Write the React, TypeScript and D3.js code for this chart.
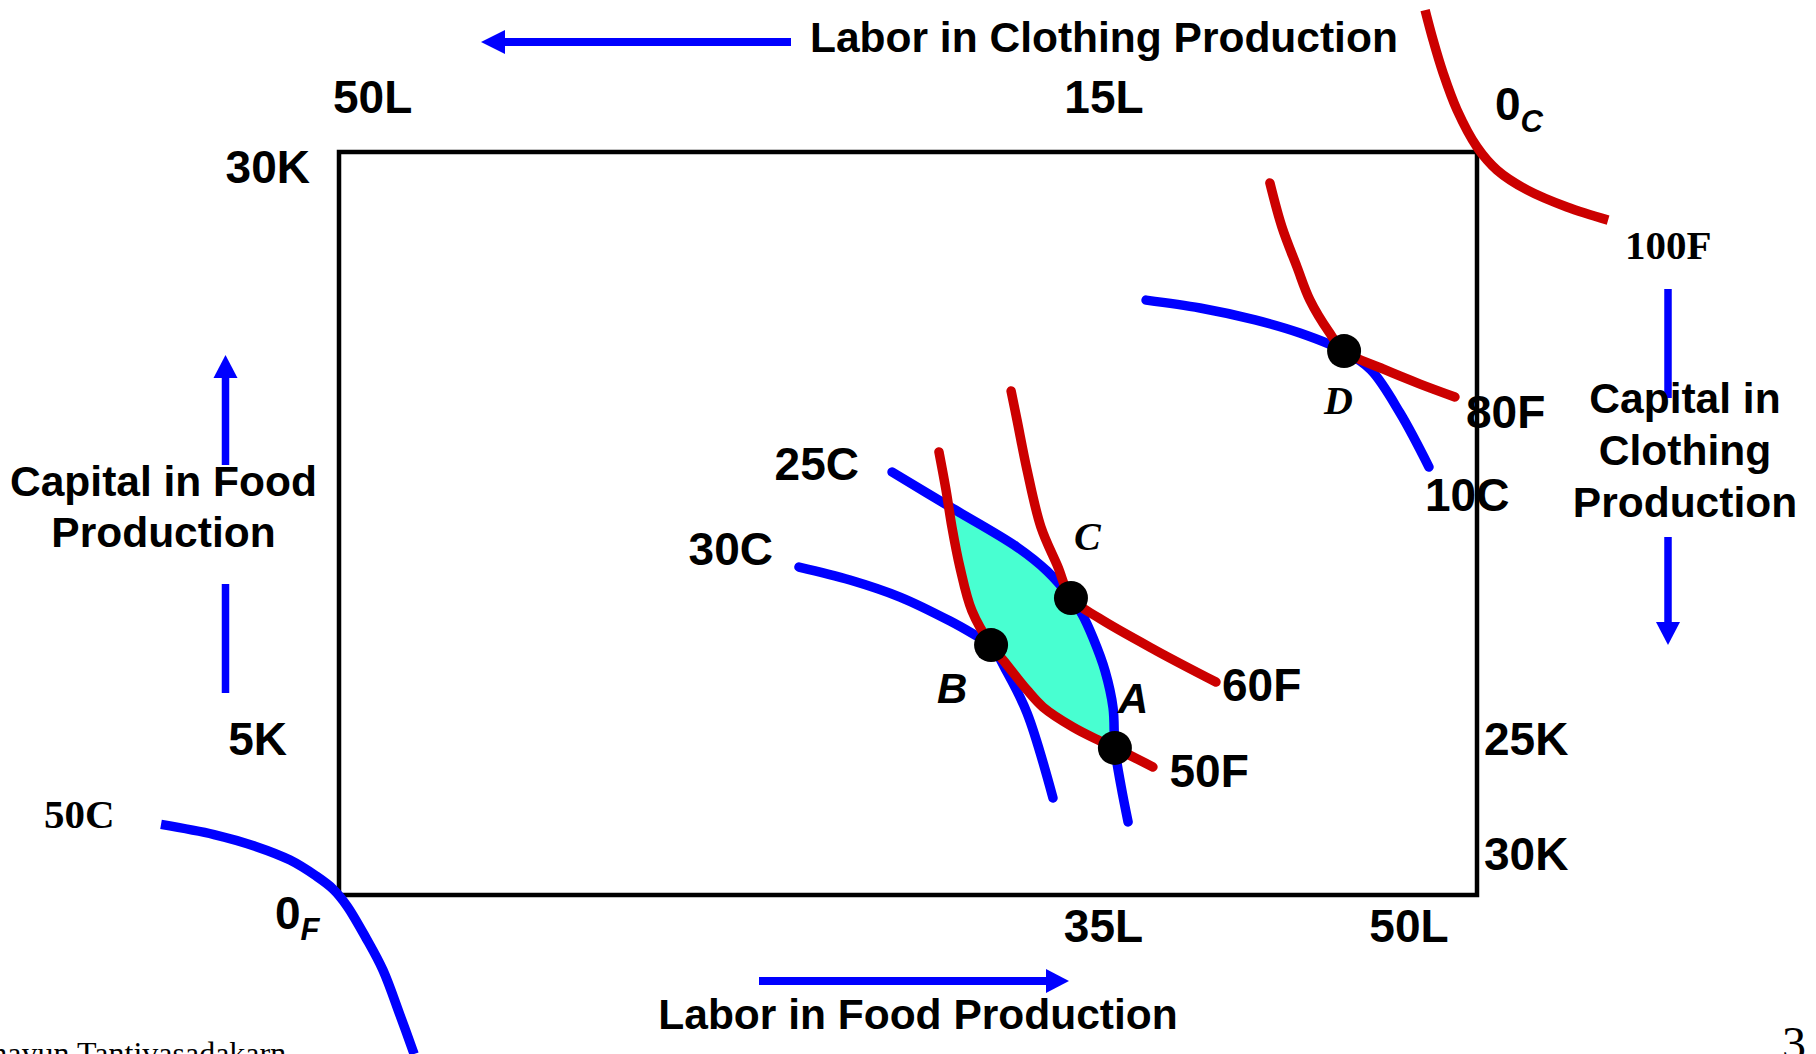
import React from "react";
import * as d3 from "d3";

const W = 1816;
const H = 1054;

// Edgeworth box totals
const laborTotal = 50;
const capitalTotal = 30;

// Isoquants, in food-origin coordinates [labor, capital]
const food50F: [number, number][] = [
  [26.36, 17.89], [26.67, 16.35], [26.93, 14.86], [27.28, 13.24], [27.81, 11.47],
  [28.65, 10.09], [29.35, 9.29], [30.23, 8.28], [30.93, 7.59], [32.25, 6.78],
  [33.44, 6.22], [34.09, 5.94], [35.76, 5.17],
];
const food60F: [number, number][] = [
  [29.53, 20.35], [29.79, 19.18], [30.23, 17.16], [30.84, 14.86], [31.59, 13.24],
  [32.16, 11.99], [33.39, 11.18], [35.94, 9.85], [38.53, 8.6],
];
const food80F: [number, number][] = [
  [40.9, 28.75], [41.43, 26.97], [42.09, 25.36], [42.66, 24.02], [43.5, 22.73],
  [44.16, 21.96], [45.87, 21.24], [47.5, 20.63], [49.03, 20.11],
];
const food100F: [number, number][] = [
  [47.72, 35.73], [48.07, 34.52], [48.51, 33.19], [49.12, 31.7], [50.0, 30.2],
  [50.88, 29.27], [52.2, 28.47], [53.95, 27.78], [55.76, 27.25],
];
const cloth25C: [number, number][] = [
  [24.3, 17.08], [26.85, 15.67], [29.79, 14.05], [31.11, 13.08], [32.16, 11.99],
  [32.64, 11.35], [33.13, 10.38], [33.66, 9.04], [34.01, 7.55], [34.09, 5.94],
  [34.36, 4.4], [34.67, 2.95],
];
const cloth30C: [number, number][] = [
  [20.21, 13.24], [22.45, 12.72], [24.65, 12.03], [26.85, 11.06], [27.86, 10.54],
  [28.65, 10.09], [29.35, 9.0], [30.23, 7.35], [31.37, 3.92],
];
const cloth10C: [number, number][] = [
  [35.46, 24.02], [37.83, 23.7], [40.25, 23.22], [42.22, 22.69], [44.16, 21.96],
  [45.34, 21.2], [46.62, 19.46], [47.89, 17.28],
];
const cloth50C: [number, number][] = [
  [-7.82, 2.85], [-5.49, 2.44], [-3.69, 1.97], [-2.15, 1.41], [-1.01, 0.77],
  [-0.26, 0.24], [0.35, -0.44], [1.19, -1.74], [1.93, -3.03], [2.68, -4.85], [3.3, -6.42],
];
const lensCorner: [number, number] = [26.87, 15.65];

const allocPoints = [
  { name: "A", L: 34.09, K: 5.94 },
  { name: "B", L: 28.65, K: 10.09 },
  { name: "C", L: 32.16, K: 11.99 },
  { name: "D", L: 44.16, K: 21.96 },
];

const RED = "#CC0000";
const BLUE = "#0000FF";
const SANS = "'Liberation Sans', Arial, Helvetica, sans-serif";
const SERIF = "'Liberation Serif', 'Times New Roman', serif";

export default function App() {
  const x = d3.scaleLinear().domain([0, laborTotal]).range([339, 1477]);
  const y = d3.scaleLinear().domain([0, capitalTotal]).range([895, 152]);
  const line = d3
    .line<[number, number]>()
    .x((d) => x(d[0]))
    .y((d) => y(d[1]))
    .curve(d3.curveCatmullRom.alpha(0.5));

  const lensUpper = [lensCorner, ...cloth25C.slice(2, 10)];
  const lensLower = [...food50F.slice(2, 12).reverse(), lensCorner];
  const lensPath =
    (line(lensUpper) || "") + (line(lensLower) || "").replace(/^M/, "L") + "Z";

  const numStyle = { fontFamily: SANS, fontWeight: 700, fontSize: 46 } as const;
  const titleStyle = { fontFamily: SANS, fontWeight: 700, fontSize: 42.5 } as const;
  const serifBold = { fontFamily: SERIF, fontWeight: 700, fontSize: 41 } as const;

  const curve = (data: [number, number][], color: string, cap: "round" | "butt" = "round") => (
    <path d={line(data) || ""} fill="none" stroke={color} strokeWidth={9.5} strokeLinecap={cap} strokeLinejoin="round" />
  );

  return (
    <svg
      width={W}
      height={H}
      viewBox={`0 0 ${W} ${H}`}
      style={{ position: "absolute", left: 0, top: 0, background: "#fff" }}
    >
      <rect x={0} y={0} width={W} height={H} fill="#fff" />

      {/* Box */}
      <rect
        x={x(0)}
        y={y(capitalTotal)}
        width={x(laborTotal) - x(0)}
        height={y(0) - y(capitalTotal)}
        fill="none"
        stroke="#000"
        strokeWidth={4.5}
      />

      {/* Lens of mutual gains */}
      <path d={lensPath} fill="#48FFD1" stroke="#000" strokeWidth={1.5} />

      {/* Isoquants */}
      {curve(cloth30C, BLUE)}
      {curve(cloth25C, BLUE)}
      {curve(cloth10C, BLUE)}
      {curve(cloth50C, BLUE, "butt")}
      {curve(food50F, RED)}
      {curve(food60F, RED)}
      {curve(food80F, RED)}
      {curve(food100F, RED, "butt")}

      {/* Allocation points */}
      {allocPoints.map((p) => (
        <circle key={p.name} cx={x(p.L)} cy={y(p.K)} r={17} fill="#000" />
      ))}

      {/* Arrows */}
      <line x1={505} y1={42} x2={791} y2={42} stroke={BLUE} strokeWidth={8} />
      <polygon points="481,42 505,30 505,54" fill={BLUE} />
      <line x1={759} y1={981} x2={1047} y2={981} stroke={BLUE} strokeWidth={8} />
      <polygon points="1069,981 1046,969 1046,993" fill={BLUE} />
      <line x1={225.5} y1={377} x2={225.5} y2={465} stroke={BLUE} strokeWidth={7.5} />
      <polygon points="225.5,355 213.5,378 237.5,378" fill={BLUE} />
      <line x1={225.5} y1={584} x2={225.5} y2={693} stroke={BLUE} strokeWidth={7.5} />
      <line x1={1668} y1={289} x2={1668} y2={398} stroke={BLUE} strokeWidth={7.5} />
      <line x1={1668} y1={537} x2={1668} y2={623} stroke={BLUE} strokeWidth={7.5} />
      <polygon points="1668,645 1656,622 1680,622" fill={BLUE} />

      {/* Titles */}
      <text x={810} y={52} style={titleStyle}>Labor in Clothing Production</text>
      <text x={918} y={1029} textAnchor="middle" style={titleStyle}>Labor in Food Production</text>
      <text x={163.5} y={496} textAnchor="middle" style={titleStyle}>Capital in Food</text>
      <text x={163.5} y={547} textAnchor="middle" style={titleStyle}>Production</text>
      <text x={1685} y={413} textAnchor="middle" style={titleStyle}>Capital in</text>
      <text x={1685} y={465} textAnchor="middle" style={titleStyle}>Clothing</text>
      <text x={1685} y={516.5} textAnchor="middle" style={titleStyle}>Production</text>

      {/* Endowment labels */}
      <text x={333} y={113} style={numStyle}>50L</text>
      <text x={1104} y={113} textAnchor="middle" style={numStyle}>15L</text>
      <text x={310} y={183} textAnchor="end" style={numStyle}>30K</text>
      <text x={287} y={755} textAnchor="end" style={numStyle}>5K</text>
      <text x={1103.5} y={942} textAnchor="middle" style={numStyle}>35L</text>
      <text x={1409} y={942} textAnchor="middle" style={numStyle}>50L</text>
      <text x={1484} y={755} style={numStyle}>25K</text>
      <text x={1484} y={870} style={numStyle}>30K</text>

      {/* Origins */}
      <text x={275} y={928.5} style={numStyle}>
        0<tspan dy={11} fontSize={31} fontStyle="italic">F</tspan>
      </text>
      <text x={1495} y={120} style={numStyle}>
        0<tspan dy={12} fontSize={31} fontStyle="italic">C</tspan>
      </text>

      {/* Isoquant labels */}
      <text x={1466} y={428} style={numStyle}>80F</text>
      <text x={1425} y={511} style={numStyle}>10C</text>
      <text x={1222} y={701} style={numStyle}>60F</text>
      <text x={1169.5} y={787} style={numStyle}>50F</text>
      <text x={859} y={480} textAnchor="end" style={numStyle}>25C</text>
      <text x={773} y={565} textAnchor="end" style={numStyle}>30C</text>
      <text x={1625} y={259} style={serifBold}>100F</text>
      <text x={44} y={828} style={serifBold}>50C</text>

      {/* Point labels */}
      <text x={937} y={703} style={{ fontFamily: SANS, fontWeight: 700, fontStyle: "italic", fontSize: 42 }}>B</text>
      <text x={1118} y={713} style={{ fontFamily: SANS, fontWeight: 700, fontStyle: "italic", fontSize: 42 }}>A</text>
      <text x={1074} y={550} style={{ fontFamily: SERIF, fontWeight: 700, fontStyle: "italic", fontSize: 40 }}>C</text>
      <text x={1324} y={414} style={{ fontFamily: SERIF, fontWeight: 700, fontStyle: "italic", fontSize: 40 }}>D</text>

      {/* Footer (cut by the page edge, as in the original slide) */}
      <text x={-30} y={1064} style={{ fontFamily: SERIF, fontSize: 32 }}>Chayun Tantivasadakarn</text>
      <text x={1782} y={1060} style={{ fontFamily: SERIF, fontSize: 48 }}>3</text>
    </svg>
  );
}
